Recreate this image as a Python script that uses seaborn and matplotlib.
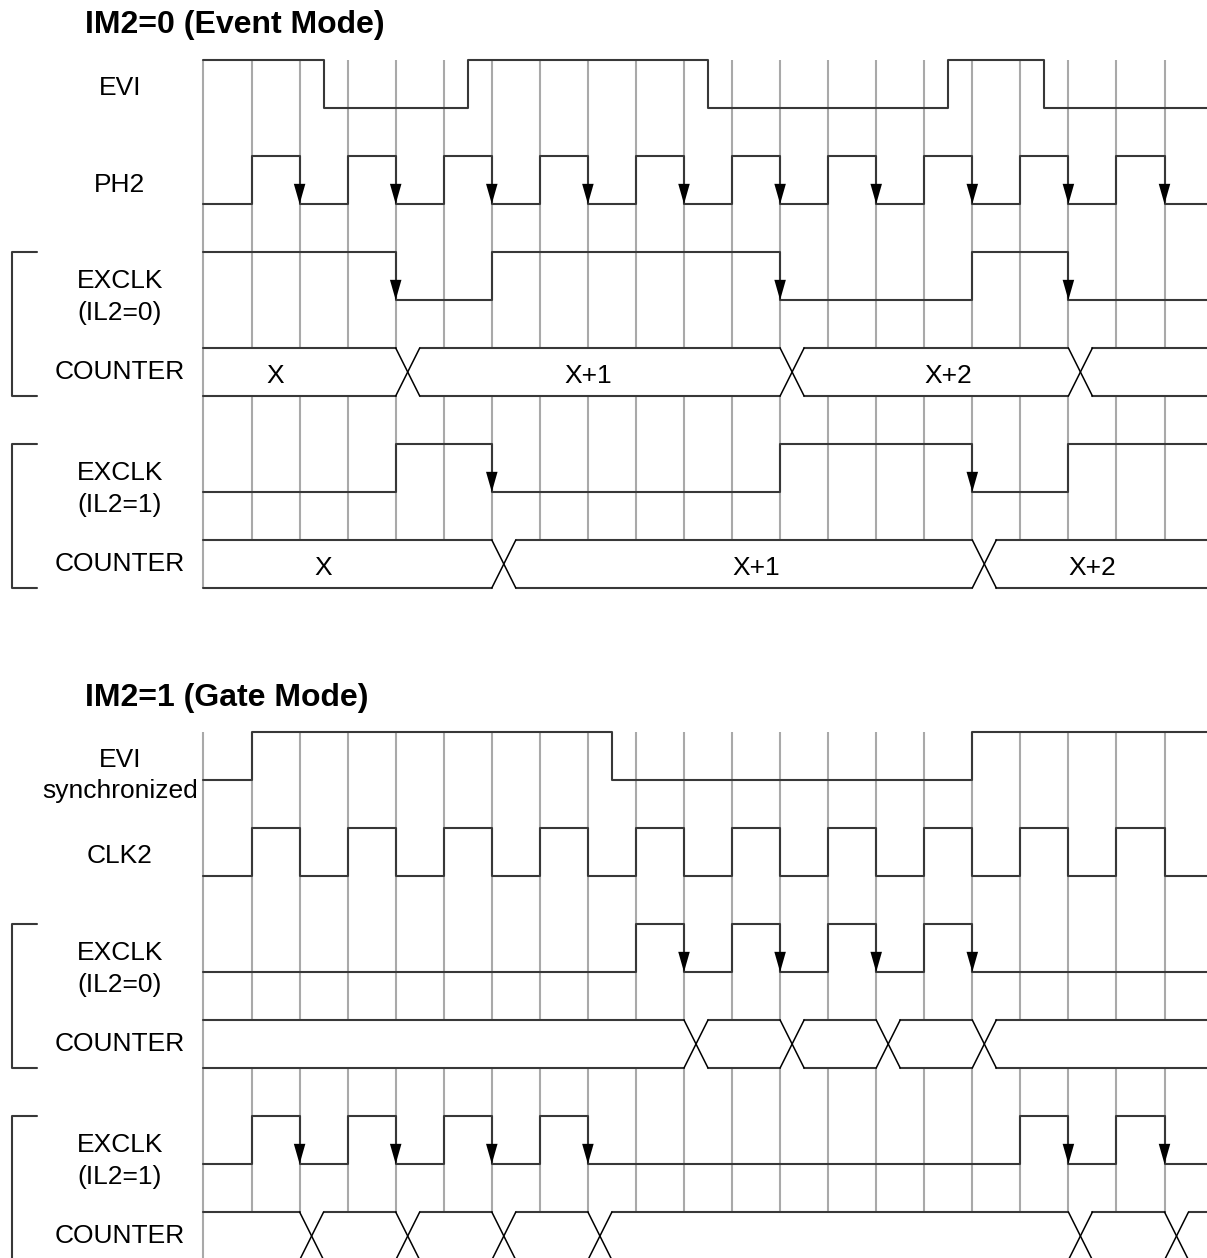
import matplotlib
matplotlib.use('Agg')
import matplotlib.pyplot as plt
from matplotlib.patches import Polygon, Rectangle
import seaborn as sns

sns.set_theme(style='white')
plt.rcParams['font.family'] = ['Liberation Sans', 'DejaVu Sans']
plt.rcParams['text.color'] = 'black'

# time unit = one grid column, vertical unit = one signal row
t_end = 21.0
n_grid = 21

# ---- IM2=0 (Event Mode) ----
evi_edges = [2.5, 5.5, 10.5, 15.5, 17.5]
ph2_edges = [1, 2, 3, 4, 5, 6, 7, 8, 9, 10, 11, 12, 13, 14, 15, 16, 17, 18, 19, 20]
ph2_arrows = [2, 4, 6, 8, 10, 12, 14, 16, 18, 20]
exclk0_edges = [4, 6, 12, 16, 18]
exclk0_arrows = [4, 12, 18]
cnt0_cross = [4, 12, 18]
cnt0_labels = ['X', 'X+1', 'X+2']
cnt0_label_t = [1.5, 8.0, 15.5]
exclk1_edges = [4, 6, 12, 16, 18]
exclk1_arrows = [6, 16]
cnt1_cross = [6, 16]
cnt1_labels = ['X', 'X+1', 'X+2']
cnt1_label_t = [2.5, 11.5, 18.5]

# ---- IM2=1 (Gate Mode) ----
evis_edges = [1, 8.5, 16]
clk2_edges = [1, 2, 3, 4, 5, 6, 7, 8, 9, 10, 11, 12, 13, 14, 15, 16, 17, 18, 19, 20]
g_exclk0_edges = [9, 10, 11, 12, 13, 14, 15, 16]
g_exclk0_arrows = [10, 12, 14, 16]
g_cnt0_cross = [10, 12, 14, 16]
g_exclk1_edges = [1, 2, 3, 4, 5, 6, 7, 8, 17, 18, 19, 20]
g_exclk1_arrows = [2, 4, 6, 8, 18, 20]
g_cnt1_cross = [2, 4, 6, 8, 18, 20]

sig_col = '#383838'
grid_col = '#a9a9a9'
fs = 19

fig = plt.figure(figsize=(12.07, 12.58), dpi=100)
ax = fig.add_axes([0, 0, 1, 1])
ax.set_axis_off()


def wave(top, start, edges, arrows=()):
    xs = [0] + list(edges) + [t_end]
    lv = [start]
    for _ in edges:
        lv.append(1 - lv[-1])
    lv.append(lv[-1])
    ys = [top + (1 - v) for v in lv]
    sns.lineplot(x=xs, y=ys, drawstyle='steps-post', estimator=None, sort=False,
                 color=sig_col, lw=1.5, ax=ax, zorder=4)
    low = top + 1
    for t in arrows:
        ax.add_patch(Polygon([(t - 0.12, low - 0.42), (t + 0.12, low - 0.42), (t, low)],
                             closed=True, fc='black', ec='none', zorder=5))


def counter(top, crosses, labels=(), label_t=()):
    bot = top + 1
    ax.add_patch(Rectangle((0.03, top), t_end, 1, fc='white', ec='none', zorder=2))
    starts = [0] + [c + 0.5 for c in crosses]
    ends = list(crosses) + [t_end]
    for a, b in zip(starts, ends):
        ax.plot([a, b], [top, top], color=sig_col, lw=1.5, zorder=4)
        ax.plot([a, b], [bot, bot], color=sig_col, lw=1.5, zorder=4)
    for c in crosses:
        ax.plot([c, c + 0.5], [top, bot], color='black', lw=1.1, zorder=4)
        ax.plot([c, c + 0.5], [bot, top], color='black', lw=1.1, zorder=4)
    for s, t in zip(labels, label_t):
        ax.text(t, top + 0.72, s, ha='center', va='baseline', fontsize=fs,
                color='black', zorder=6)


def bracket(top, bot):
    ax.plot([-3.465, -3.985, -3.985, -3.465], [top, top, bot, bot],
            color=sig_col, lw=1.5, zorder=4)


def label(y, s):
    ax.text(-1.738, y, s, ha='center', va='baseline', fontsize=fs, color='black')


# grid
ax.vlines(range(n_grid), 0, 11, color=grid_col, lw=1.5, zorder=1)
ax.vlines(range(n_grid), 14, 25.5, color=grid_col, lw=1.5, zorder=1)

# event mode
ax.text(-2.466, -0.556, 'IM2=0 (Event Mode)', ha='left', va='baseline',
        fontsize=23, fontweight='bold', color='black')
wave(0, 1, evi_edges)
wave(2, 0, ph2_edges, ph2_arrows)
wave(4, 1, exclk0_edges, exclk0_arrows)
counter(6, cnt0_cross, cnt0_labels, cnt0_label_t)
wave(8, 0, exclk1_edges, exclk1_arrows)
counter(10, cnt1_cross, cnt1_labels, cnt1_label_t)
bracket(4, 7)
bracket(8, 11)
label(0.72, 'EVI')
label(2.74, 'PH2')
label(4.74, 'EXCLK')
label(5.42, '(IL2=0)')
label(6.65, 'COUNTER')
label(8.74, 'EXCLK')
label(9.41, '(IL2=1)')
label(10.64, 'COUNTER')

# gate mode
ax.text(-2.466, 13.45, 'IM2=1 (Gate Mode)', ha='left', va='baseline',
        fontsize=23, fontweight='bold', color='black')
wave(14, 0, evis_edges)
wave(16, 0, clk2_edges)
wave(18, 0, g_exclk0_edges, g_exclk0_arrows)
counter(20, g_cnt0_cross)
wave(22, 0, g_exclk1_edges, g_exclk1_arrows)
counter(24, g_cnt1_cross)
bracket(18, 21)
bracket(22, 25)
label(14.72, 'EVI')
label(15.375, 'synchronized')
label(16.72, 'CLK2')
label(18.74, 'EXCLK')
label(19.42, '(IL2=0)')
label(20.65, 'COUNTER')
label(22.74, 'EXCLK')
label(23.41, '(IL2=1)')
label(24.64, 'COUNTER')

ax.set_xlim(-203.5 / 48.05, (1207 - 203.5) / 48.05)
ax.set_ylim((1258 - 60) / 48, -60 / 48)
ax.set_xlabel('')
ax.set_ylabel('')

fig.savefig('out.png', dpi=100)
